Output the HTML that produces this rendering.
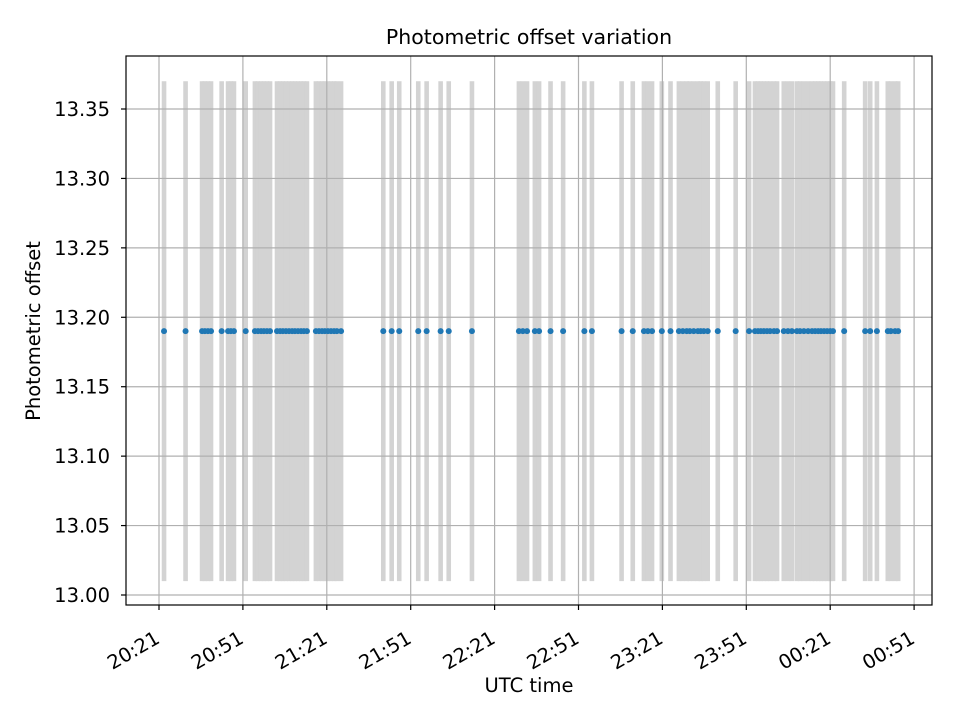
<!DOCTYPE html>
<html><head><meta charset="utf-8"><style>
body{margin:0;background:#fff}
svg{display:block;font-family:"DejaVu Sans","Liberation Sans",sans-serif}
</style></head><body>
<svg id="c" width="960" height="720" xmlns="http://www.w3.org/2000/svg"></svg>
<script>
// minutes since 20:21 UTC
const times=[1.8,9.5,15.4,16.4,17.5,18.6,22.4,24.7,25.7,26.8,31.0,34.3,35.4,36.5,37.5,38.6,39.7,42.2,43.3,44.3,45.4,46.5,47.6,48.6,49.7,50.8,51.8,52.9,56.1,57.2,58.3,59.3,60.4,61.5,62.6,63.6,65.1,80.2,83.2,85.9,92.7,95.7,100.7,103.6,111.9,128.7,130.1,131.6,134.4,135.9,140.0,144.5,152.1,154.8,165.4,169.4,173.4,174.8,176.3,179.8,182.9,185.9,187.3,188.7,189.8,191.2,192.7,193.7,194.8,196.2,199.8,206.2,211.0,213.1,214.2,215.2,216.3,217.4,218.5,219.9,221.0,223.4,224.9,226.3,228.1,229.2,230.6,232.1,233.5,234.6,235.7,236.7,237.8,238.9,240.0,241.0,245.0,252.5,254.3,256.7,260.6,261.7,263.2,264.3];
const offsetValue=13.19;
const offsetErr=0.18;
const xTickLabels=["20:21","20:51","21:21","21:51","22:21","22:51","23:21","23:51","00:21","00:51"];
const xTickMinutes=[0,30,60,90,120,150,180,210,240,270];
const yTicks=[13.00,13.05,13.10,13.15,13.20,13.25,13.30,13.35];

const L=126,R=932,T=56,B=605;
const X=m=>159+m*(83.9/30);
const Y=v=>595-(v-13.0)*(486/0.35);
const svg=document.getElementById('c');
const NS='http://www.w3.org/2000/svg';
function mk(tag,attrs,parent){const e=document.createElementNS(NS,tag);for(const k in attrs)e.setAttribute(k,attrs[k]);(parent||svg).appendChild(e);return e;}

const gb=mk('g',{});


times.forEach(t=>{
  const r=mk('rect',{x:X(t)-2.3,y:Y(offsetValue+offsetErr),width:4.6,height:Y(offsetValue-offsetErr)-Y(offsetValue+offsetErr),fill:'#d3d3d3'},gb);
  
  
});
const gg=mk('g',{stroke:'#b0b0b0','stroke-width':1.2});


xTickMinutes.forEach(m=>mk('line',{x1:X(m),x2:X(m),y1:T,y2:B},gg));
yTicks.forEach(v=>mk('line',{x1:L,x2:R,y1:Y(v),y2:Y(v)},gg));
const gp=mk('g',{fill:'#1f77b4'});


times.forEach(t=>{
  const c=mk('circle',{cx:X(t),cy:Y(offsetValue),r:3},gp);
  
  
});
const fr=mk('rect',{x:L,y:T,width:R-L,height:B-T,fill:'none',stroke:'#000','stroke-width':1.2});


const gx=mk('g',{});


xTickMinutes.forEach((m,i)=>{
  mk('line',{x1:X(m),x2:X(m),y1:B,y2:B+5,stroke:'#000','stroke-width':1.2},gx);
  const ax=X(m)+2, ay=B+37;
  const tx=mk('text',{x:ax,y:ay,'font-size':19.5,'text-anchor':'end',transform:`rotate(-30 ${ax} ${ay})`},gx);
  
  
  tx.textContent=xTickLabels[i];
});
const gy=mk('g',{});


yTicks.forEach(v=>{
  mk('line',{x1:L-5,x2:L,y1:Y(v),y2:Y(v),stroke:'#000','stroke-width':1.2},gy);
  const tx=mk('text',{x:L-16,y:Y(v)+7,'font-size':19.5,'text-anchor':'end'},gy);
  
  
  tx.textContent=v.toFixed(2);
});
</script>
<script>
(function(){
const svg=document.getElementById('c');const NS='http://www.w3.org/2000/svg';
function t(x,y,s,txt,rot){const e=document.createElementNS(NS,'text');e.setAttribute('x',x);e.setAttribute('y',y);e.setAttribute('font-size',s);e.setAttribute('text-anchor','middle');if(rot)e.setAttribute('transform',rot);e.textContent=txt;svg.appendChild(e);return e;}
const a=t(529,44,20.5,'Photometric offset variation');


const b=t(529,692,19.5,'UTC time');


const c=t(40,331,19.5,'Photometric offset','rotate(-90 40 331)');


})();
</script>
</body></html>
